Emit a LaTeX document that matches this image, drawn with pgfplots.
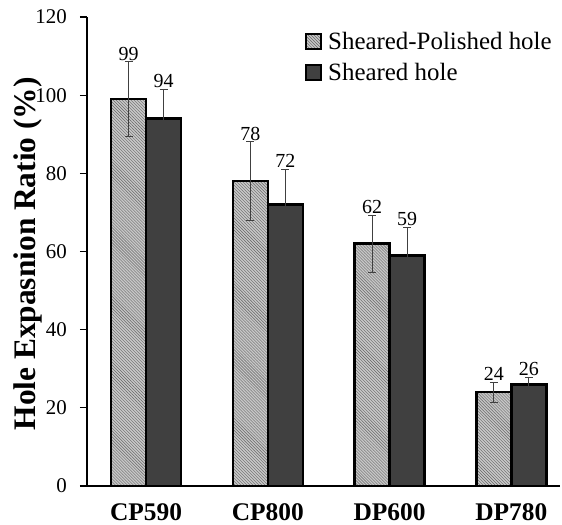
\documentclass[border=0pt]{standalone}
\usepackage{fontspec}
\setmainfont{Liberation Serif}
\usepackage{pgfplots}
\usepackage{pgfplotstable}
\pgfplotsset{compat=1.18}
\usetikzlibrary{patterns}

% half a bar width in axis units (35bp bars, 121.75bp per category)
\def\hb{0.14374}

% square legend symbol with a heavy outline, error bar look, bar geometry
\pgfplotsset{
  sqlegend/.style={
    legend image code/.code={%
      \draw[##1, line width=2bp] (0bp,-7.5bp) rectangle (15bp,7.5bp);
      \path (19bp,0bp);}},
  errstyle/.style={
    error bars/.cd, y dir=both, y explicit,
    error bar style={line width=0.7bp, black!75},
    error mark options={rotate=90, mark size=4bp, line width=0.7bp, black!75}},
  barbase/.style={ybar, bar width=35bp, bar shift=0pt, draw=black, line width=2.6bp},
  valuelabel/.style={draw=none, mark=none, forget plot,
    nodes near coords, point meta=explicit,
    every node near coord/.style={font=\fontsize{20}{24}\selectfont, anchor=south,
      inner sep=1bp, black}},
}

% Hole expansion ratio (%) and standard deviation
\pgfplotstableread{
x y err
0 99 9.6
1 78 10.1
2 62 7.3
3 24 2.6
}\polished
\pgfplotstableread{
x y err
0 94 7.6
1 72 9.1
2 59 7.2
3 26 1.9
}\sheared

\begin{document}
\begin{tikzpicture}
\useasboundingbox (-87bp,-39bp) rectangle (475bp,486bp);
\begin{axis}[
  scale only axis, width=473bp, height=469bp,
  xmin=-0.485, xmax=3.40, ymin=0, ymax=120,
  axis lines=left,
  axis line style={-, line width=1.6bp},
  xtick={0,1,2,3}, xticklabels={CP590,CP800,DP600,DP780},
  x tick style={draw=none},
  xticklabel style={font=\fontsize{25.5}{30}\selectfont\bfseries,
    inner sep=0pt, yshift=-10.5bp},
  ytick={0,20,...,120},
  tick align=outside,
  y tick style={line width=1.2bp, black},
  major tick length=7bp,
  yticklabel style={font=\fontsize{21}{25}\selectfont, inner sep=0pt,
    anchor=east, xshift=-13bp},
  /pgf/number format/assume math mode=true,
  ylabel={Hole Expasnion Ratio (\%)},
  ylabel style={font=\fontsize{31.5}{36}\selectfont\bfseries,
    at={(axis description cs:-0.125,0.495)}, anchor=center},
  legend style={draw=none, fill=none, at={(axis description cs:0.454,0.977)},
    anchor=north west, font=\fontsize{25}{30}\selectfont, row sep=8bp},
  legend cell align=left,
]
\addplot[barbase, fill=black!22,
  postaction={pattern=north west lines, pattern color=black!60},
  sqlegend, errstyle]
  table[x expr=\thisrow{x}-\hb, y=y, y error=err] {\polished};
\addlegendentry{Sheared-Polished hole}
\addplot[barbase, fill=black!75, sqlegend, errstyle]
  table[x expr=\thisrow{x}+\hb, y=y, y error=err] {\sheared};
\addlegendentry{Sheared hole}

% value labels sit on top of each error bar
\addplot[valuelabel]
  table[x expr=\thisrow{x}-\hb, y expr=\thisrow{y}+\thisrow{err}, meta=y] {\polished};
\addplot[valuelabel]
  table[x expr=\thisrow{x}+\hb, y expr=\thisrow{y}+\thisrow{err}, meta=y] {\sheared};
\end{axis}
\end{tikzpicture}
\end{document}
